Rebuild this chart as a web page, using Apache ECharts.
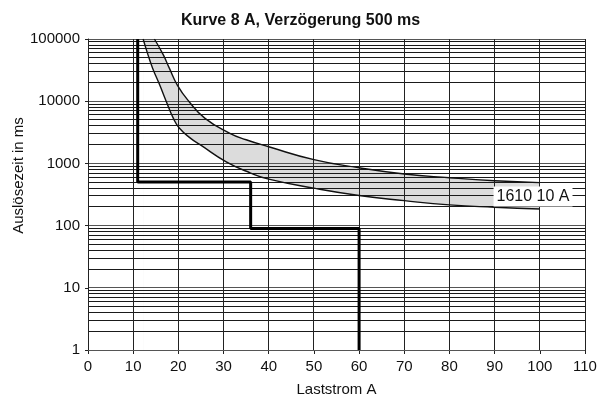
<!DOCTYPE html>
<html><head><meta charset="utf-8">
<script src="https://cdn.jsdelivr.net/npm/echarts@6/dist/echarts.min.js"></script>
<style>html,body{margin:0;padding:0;background:#fff}#c{width:601px;height:405px}</style>
</head><body><div id="c"></div>
<script>
const titleText = 'Kurve 8 A, Verzögerung 500 ms';
const xName = 'Laststrom A';
const yName = 'Auslösezeit in ms';
const bandLabel = '1610 10 A';
const yTickLabels = ['1', '10', '100', '1000', '10000', '100000'];
const xGrid = [0, 10, 20, 30, 40, 50, 60, 70, 80, 90, 100, 110];
const yMajorGrid = [1, 10, 100, 1000, 10000, 100000];
// log minor grid lines (ms)
const yMinorGrid = [2,3,4,5,6,7,8,9,20,30,40,50,60,70,80,90,200,300,400,500,600,700,800,900,2000,3000,4000,5000,6000,7000,8000,9000,20000,30000,40000,50000,60000,70000,80000,90000];

// upper limit curve of the band (A, ms)
const upperCurve = [[14.7,100000],[16.7,55000],[18.0,34000],[19.8,18000],[22.3,10000],[25.9,5300],[31.4,3050],[35,2400],[40,1850],[50,1150],[60,850],[70,676],[80,589],[90,527],[100,490]];
// lower limit curve of the band (A, ms)
const lowerCurve = [[12.2,100000],[13.3,55000],[14.3,34000],[15.9,18000],[17.3,10000],[18.9,5300],[20.2,3700],[22.8,2500],[24.8,2000],[30.6,1060],[36,700],[40,560],[50,400],[60,305],[70,252],[80,215],[90,197],[100,185]];
// delayed trip characteristic (A, ms)
const stepCurve = [[11,100000],[11,500],[36,500],[36,90],[60,90],[60,1]];
const labelPos = [98.5, 295];

const FONT = '"Liberation Sans", Arial, Helvetica, sans-serif';
const SMOOTH = 0.5;
const BAND = '#dcdcdc';
const chart = echarts.init(document.getElementById('c'), null, {renderer: 'canvas'});

function hLine(api, v, color) {
  const p1 = api.coord([0, v]);
  const p2 = api.coord([110, v]);
  const y = Math.round(p1[1] - 0.5) + 0.5;
  return {type: 'line', shape: {x1: p1[0], y1: y, x2: p2[0], y2: y}, style: {stroke: color, lineWidth: 1}};
}
function vLine(api, v, color) {
  const p1 = api.coord([v, 1]);
  const p2 = api.coord([v, 100000]);
  const x = Math.round(p1[0] - 0.5) + 0.5;
  return {type: 'line', shape: {x1: x, y1: p1[1], x2: x, y2: p2[1]}, style: {stroke: color, lineWidth: 1}};
}

chart.setOption({
  animation: false,
  backgroundColor: '#fff',
  title: {
    text: titleText, left: 'center', top: 8,
    textStyle: {fontFamily: FONT, fontSize: 16, fontWeight: 'bold', color: '#111'}
  },
  graphic: [{
    type: 'text', x: 19, y: 175.5, rotation: Math.PI / 2,
    style: {text: yName, font: '15px ' + FONT, fill: '#111', align: 'center', verticalAlign: 'middle'}
  }],
  grid: {left: 88, right: 16, top: 39, bottom: 55, containLabel: false},
  xAxis: {
    type: 'value', min: 0, max: 110, interval: 10,
    name: xName, nameLocation: 'middle', nameGap: 32,
    nameTextStyle: {fontFamily: FONT, fontSize: 15, color: '#111'},
    axisLine: {show: true, lineStyle: {color: '#555', width: 1}},
    axisTick: {show: true, length: 4, lineStyle: {color: '#222'}},
    axisLabel: {fontFamily: FONT, fontSize: 15, color: '#111', margin: 9},
    splitLine: {show: false}
  },
  yAxis: {
    type: 'log', logBase: 10, min: 1, max: 100000,
    axisLine: {show: true, lineStyle: {color: '#111', width: 1}},
    axisTick: {show: true, length: 3, lineStyle: {color: '#222'}},
    axisLabel: {fontFamily: FONT, fontSize: 15, color: '#111', margin: 8,
      formatter: function (v) { return yTickLabels[Math.round(Math.log10(v))]; }},
    splitLine: {show: false}
  },
  series: [
    // band fill: grey under the upper curve
    {
      type: 'line', z: 1, data: upperCurve, smooth: SMOOTH, showSymbol: false, symbol: 'none', silent: true,
      lineStyle: {width: 0, opacity: 0}, areaStyle: {color: BAND, opacity: 1, origin: 'start'}
    },
    // band fill: top-left strip before the upper curve starts
    {
      type: 'custom', z: 1, silent: true, data: [[50, 1000]],
      renderItem: function (params, api) {
        const a = api.coord([lowerCurve[0][0], 100000]);
        const b = api.coord([upperCurve[0][0], 1]);
        return {type: 'rect', shape: {x: a[0], y: a[1], width: b[0] - a[0] + 0.5, height: b[1] - a[1]},
          style: {fill: BAND}};
      }
    },
    // white under the lower curve
    {
      type: 'line', z: 2, data: lowerCurve, smooth: SMOOTH, showSymbol: false, symbol: 'none', silent: true,
      lineStyle: {width: 0, opacity: 0}, areaStyle: {color: '#fff', opacity: 1, origin: 'start'}
    },
    // grid lines drawn above the fills
    {
      type: 'custom', z: 3, silent: true, data: [[50, 1000]],
      renderItem: function (params, api) {
        const children = [];
        yMinorGrid.forEach(v => children.push(hLine(api, v, '#1a1a1a')));
        yMajorGrid.forEach(v => children.push(hLine(api, v, '#555')));
        xGrid.forEach(v => children.push(vLine(api, v, '#222')));
        return {type: 'group', children: children};
      }
    },
    {
      type: 'line', z: 4, data: upperCurve, smooth: SMOOTH, showSymbol: false, symbol: 'none',
      lineStyle: {color: '#111', width: 1.4}
    },
    {
      type: 'line', z: 4, data: lowerCurve, smooth: SMOOTH, showSymbol: false, symbol: 'none',
      lineStyle: {color: '#111', width: 1.4}
    },
    {
      type: 'line', z: 5, data: stepCurve, showSymbol: false, symbol: 'none',
      lineStyle: {color: '#000', width: 3}
    },
    {
      type: 'custom', z: 6, silent: true, data: [labelPos],
      renderItem: function (params, api) {
        const p = api.coord([api.value(0), api.value(1)]);
        return {type: 'text', x: p[0], y: p[1], z2: 10,
          style: {text: bandLabel, font: '16px ' + FONT, fill: '#111', align: 'center', verticalAlign: 'middle',
            backgroundColor: '#fff', padding: [2, 3, 2, 3]}};
      }
    }
  ]
});
</script></body></html>
